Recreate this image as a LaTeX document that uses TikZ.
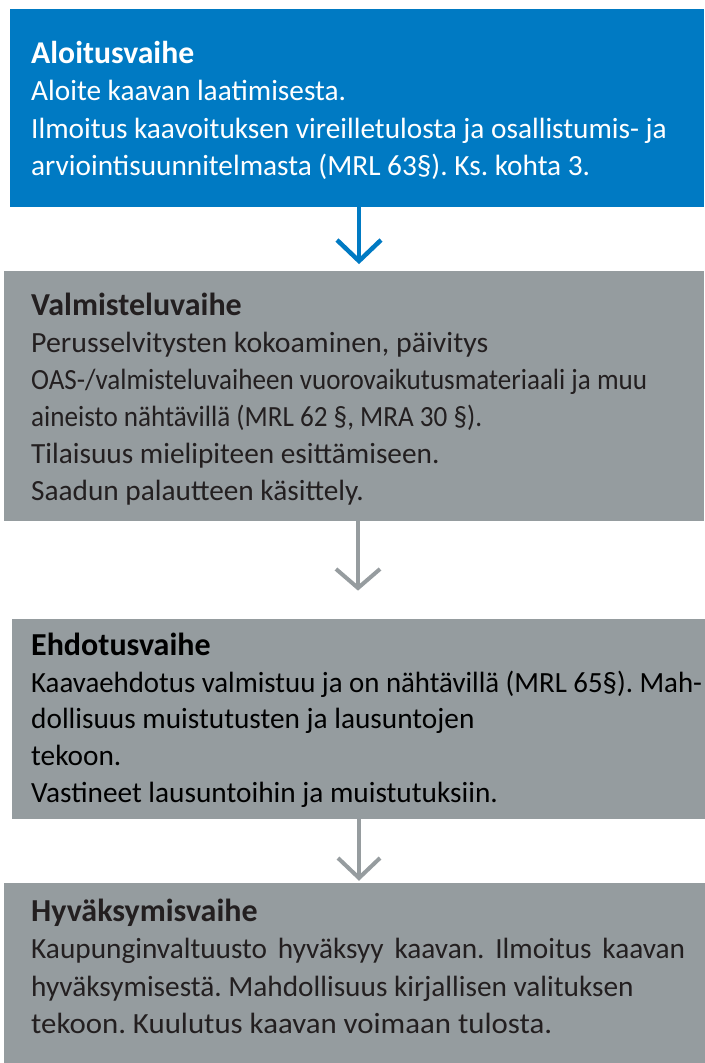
\documentclass[tikz,border=0pt]{standalone}
\usepackage{fontspec}
\setmainfont{Carlito}
\usetikzlibrary{calc}
\definecolor{blu}{RGB}{0,122,195}
\definecolor{gry}{RGB}{149,156,159}
\definecolor{agry}{RGB}{150,156,159}
\definecolor{txt}{RGB}{35,31,32}
\frenchspacing
\newcommand\fitto[2]{\resizebox{#1}{\height}{#2}}
\begin{document}
\begin{tikzpicture}[x=1bp,y=-1bp,
  box/.style={draw=none, fill=#1, inner sep=0pt, outer sep=0pt, anchor=north west},
  ttl/.style={anchor=base west, inner sep=0pt, font=\fontsize{#1}{#1}\selectfont\bfseries},
  body/.style={anchor=base west, inner sep=0pt, font=\fontsize{#1}{#1}\selectfont},
  conn/.style={draw=#1, line width=4.5bp},
  head/.style={draw=#1, line width=4.5bp, line join=miter}]
\useasboundingbox (0,0) rectangle (705,1063);
\fill[white] (0,0) rectangle (705,1063);
% boxes
\node[box=blu, minimum width=694bp, minimum height=198bp] (b1) at (10,9) {};
\node[box=gry, minimum width=700bp, minimum height=250bp] (b2) at (4,271) {};
\node[box=gry, minimum width=693bp, minimum height=200bp] (b3) at (12,619) {};
\node[box=gry, minimum width=701bp, minimum height=180bp] (b4) at (4,883) {};
% box 1 text
\begin{scope}[text=white]
\node[ttl=31.7bp] (h1) at (31,63) {Aloitusvaihe};
\node[body=29.3bp] (l11) at (31,100) {Aloite kaavan laatimisesta.};
\node[body=29.3bp] (l12) at (31,138) {Ilmoitus kaavoituksen vireilletulosta ja osallistumis- ja};
\node[body=29.3bp] (l13) at (31,175) {arviointisuunnitelmasta (MRL 63§). Ks. kohta 3.};
\end{scope}
% box 2 text
\begin{scope}[text=txt]
\node[ttl=32bp] (h2) at (31,315) {Valmisteluvaihe};
\node[body=29.3bp] (l21) at (31,352) {\fitto{457bp}{Perusselvitysten kokoaminen, päivitys}};
\node[body=29.3bp] (l22) at (31,389) {\fitto{616bp}{OAS-/valmisteluvaiheen vuorovaikutusmateriaali ja muu}};
\node[body=29.3bp] (l23) at (31,426) {\fitto{451bp}{aineisto nähtävillä (MRL 62 §, MRA 30 §).}};
\node[body=29.3bp] (l24) at (31,463) {Tilaisuus mielipiteen esittämiseen.};
\node[body=29.3bp] (l25) at (31,500) {Saadun palautteen käsittely.};
\end{scope}
% box 3 text
\begin{scope}[text=black]
\node[ttl=32bp] (h3) at (31,655) {Ehdotusvaihe};
\node[body=29.3bp] (l31) at (31,692) {\fitto{671bp}{Kaavaehdotus valmistuu ja on nähtävillä (MRL 65§). Mah-}};
\node[body=29.3bp] (l32) at (31,728) {dollisuus muistutusten ja lausuntojen};
\node[body=29.3bp] (l33) at (31,765) {tekoon.};
\node[body=29.3bp] (l34) at (31,802) {Vastineet lausuntoihin ja muistutuksiin.};
\end{scope}
% box 4 text
\begin{scope}[text=txt]
\node[ttl=32bp] (h4) at (31,921) {Hyväksymisvaihe};
\node[body=29.3bp] (l41) at (31,958) {\makebox[654bp][s]{Kaupunginvaltuusto hyväksyy kaavan. Ilmoitus kaavan}};
\node[body=29.3bp] (l42) at (31,996) {hyväksymisestä. Mahdollisuus kirjallisen valituksen};
\node[body=29.3bp] (l43) at (31,1033) {\fitto{521bp}{tekoon. Kuulutus kaavan voimaan tulosta.}};
\end{scope}
% arrows
\coordinate (p1) at (359,261);
\coordinate (p2) at (358,588);
\coordinate (p3) at (359,878);
\draw[conn=blu] (b1.south -| p1) -- (p1);
\draw[head=blu] ($(p1)+(-22,-21)$) -- (p1) -- ($(p1)+(22,-21)$);
\draw[conn=agry, line width=4bp] (b2.south -| p2) -- (p2);
\draw[head=agry, line width=4bp] ($(p2)+(-22,-19)$) -- (p2) -- ($(p2)+(22,-19)$);
\draw[conn=agry, line width=4bp] (b3.south -| p3) -- (p3);
\draw[head=agry, line width=4bp] ($(p3)+(-21,-20)$) -- (p3) -- ($(p3)+(21,-20)$);
\end{tikzpicture}
\end{document}
